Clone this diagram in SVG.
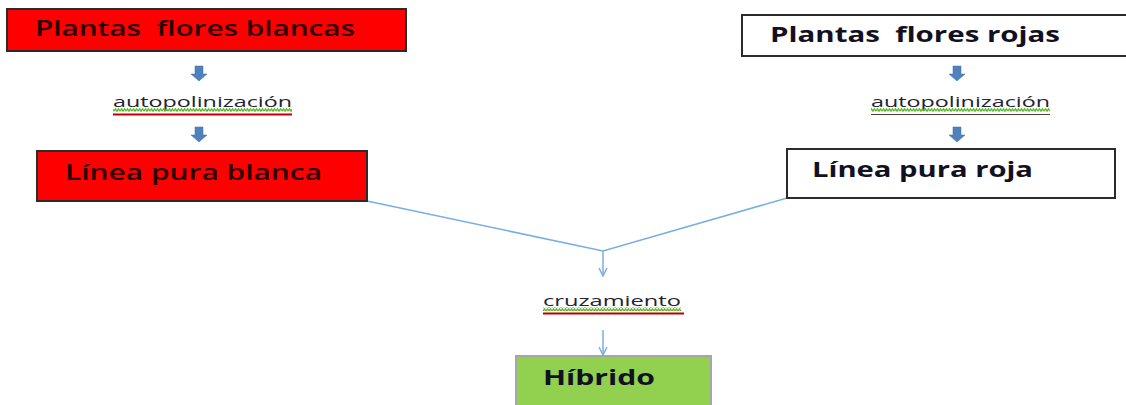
<svg xmlns="http://www.w3.org/2000/svg" width="1126" height="405" viewBox="0 0 1126 405">
<style>
.box{stroke:#2b2b2b;stroke-width:2}
.red{fill:#ff0000}
.white{fill:#ffffff}
.t{font-family:"Open Sans","Liberation Sans",sans-serif;font-size:21px}
.tl{fill:#2a0000;font-weight:600}
.tb{fill:#111122;font-weight:bold}
.lbl{font-family:"Open Sans","Liberation Sans",sans-serif;font-size:15px;fill:#222233}
.conn{stroke:#7aaee0;stroke-width:1.5;fill:none}
.blk{fill:#4f81bd;stroke:#3f6fa8;stroke-width:0.5}
.ul{stroke:#c00000;stroke-width:2}
</style>
<defs>
<pattern id="wave" x="0" y="0" width="6" height="4" patternUnits="userSpaceOnUse">
<path d="M0,3.2 L1.5,0.8 L3,3.2 L4.5,0.8 L6,3.2" stroke="#5cb82e" stroke-width="1.3" fill="none"/>
</pattern>
<marker id="ah" viewBox="0 0 10 10" refX="9" refY="5" markerWidth="10" markerHeight="10" markerUnits="userSpaceOnUse" orient="auto">
<path d="M1,1 L9,5 L1,9" fill="none" stroke="#7aaee0" stroke-width="1.5"/>
</marker>
<path id="barrow" d="M-4,0 H4 V8 H8 L0,15 L-8,8 H-4 Z"/>
</defs>

<g id="connectors">
<path class="conn" d="M367,201 L603,251 L787,198"/>
<path class="conn" d="M603,251 V276" marker-end="url(#ah)"/>
<path class="conn" d="M603,330 V355" marker-end="url(#ah)"/>
<use href="#barrow" class="blk" x="199" y="66"/>
<use href="#barrow" class="blk" x="199" y="127"/>
<use href="#barrow" class="blk" x="957" y="66"/>
<use href="#barrow" class="blk" x="957" y="127"/>
</g>

<g id="n1">
<rect class="box red" x="7" y="9" width="399" height="42"/>
<text class="t tl" x="35" y="36" textLength="320" lengthAdjust="spacingAndGlyphs">Plantas&#160; flores blancas</text>
</g>
<g id="n2">
<rect class="box red" x="37" y="151" width="330" height="50"/>
<text class="t tl" x="65" y="180" textLength="257" lengthAdjust="spacingAndGlyphs">Línea pura blanca</text>
</g>
<g id="n3">
<rect class="box white" x="742" y="15" width="400" height="41"/>
<text class="t tb" x="770" y="42" textLength="290" lengthAdjust="spacingAndGlyphs">Plantas&#160; flores rojas</text>
</g>
<g id="n4">
<rect class="box white" x="787" y="149" width="328" height="49"/>
<text class="t tb" x="812" y="177" textLength="221" lengthAdjust="spacingAndGlyphs">Línea pura roja</text>
</g>
<g id="n5">
<rect x="516" y="356" width="195" height="60" fill="#92d050" stroke="#a6a6a6" stroke-width="2"/>
<text class="t tb" x="543" y="385" textLength="112" lengthAdjust="spacingAndGlyphs">Híbrido</text>
</g>

<g id="label-auto-left">
<text class="lbl" x="113" y="107" textLength="179" lengthAdjust="spacingAndGlyphs">autopolinización</text>
<rect x="113" y="108" width="179" height="4" fill="url(#wave)"/>
<line class="ul" x1="113" y1="114.5" x2="292" y2="114.5"/>
</g>
<g id="label-auto-right">
<text class="lbl" x="871" y="107" textLength="179" lengthAdjust="spacingAndGlyphs">autopolinización</text>
<rect x="871" y="108" width="179" height="4" fill="url(#wave)"/>
<line x1="871" y1="114.5" x2="1050" y2="114.5" stroke="#5a3a3a" stroke-width="1"/>
</g>
<g id="label-cruz">
<text class="lbl" x="543" y="306" textLength="138" lengthAdjust="spacingAndGlyphs">cruzamiento</text>
<rect x="543" y="307" width="138" height="4" fill="url(#wave)"/>
<line class="ul" x1="543" y1="313.5" x2="684" y2="313.5"/>
</g>
</svg>
